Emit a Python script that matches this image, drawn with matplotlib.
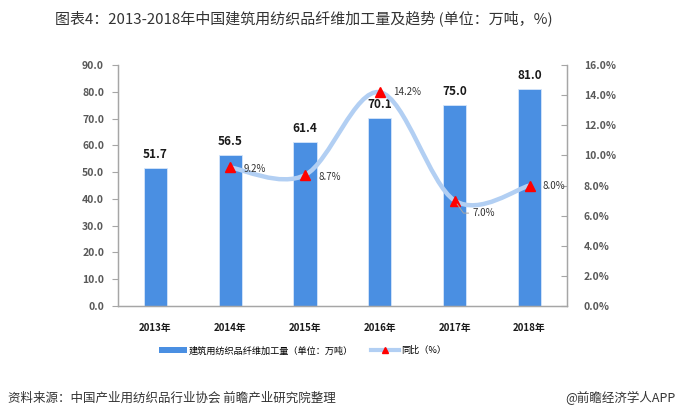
import numpy as np
import matplotlib
matplotlib.use('Agg')
import matplotlib.pyplot as plt
from matplotlib.path import Path
from matplotlib.patches import PathPatch, Patch
from matplotlib.lines import Line2D

plt.rcParams['font.family'] = ['Noto Sans CJK SC', 'DejaVu Sans']

# 数据
years = ['2013年', '2014年', '2015年', '2016年', '2017年', '2018年']
volume = [51.7, 56.5, 61.4, 70.1, 75.0, 81.0]          # 万吨
yoy_years = ['2014年', '2015年', '2016年', '2017年', '2018年']
yoy = [9.2, 8.7, 14.2, 7.0, 8.0]                        # %
left_ticks = [0, 10, 20, 30, 40, 50, 60, 70, 80, 90]
right_ticks = [0, 2, 4, 6, 8, 10, 12, 14, 16]

bar_c = '#4a8fe2'
line_c = '#b2cff3'
spine_c = '#a6a6a6'
tick_c = '#595959'

fig = plt.figure(figsize=(6.8, 4.2), dpi=100)
ax = fig.add_axes([0.1735, 0.2714, 0.6603, 0.5736])
ax2 = ax.twinx()

x = np.arange(len(years))
ax.bar(x, volume, width=0.31, color=bar_c, edgecolor='#d6e6fa', linewidth=0.6, zorder=2)
for xi, v in zip(x, volume):
    ax.annotate('%.1f' % v, (xi, v), xytext=(0, 5), textcoords='offset points',
                ha='center', va='bottom', fontsize=8.5, fontweight='bold', color='#1a1a1a')

ax.set_xlim(-0.5, 5.5)
ax.set_ylim(0, 90)
ax.set_yticks(left_ticks)
ax.set_yticklabels(['%.1f' % t for t in left_ticks], fontsize=7.5, fontweight='bold', color=tick_c)
ax.set_xticks(x)
ax.set_xticklabels(years, fontsize=7, fontweight='bold', color='#1a1a1a')
ax.tick_params(axis='x', length=0, pad=12)
ax.tick_params(axis='y', direction='out', length=4, color=spine_c, pad=6)

ax2.set_ylim(0, 16)
ax2.set_yticks(right_ticks)
ax2.set_yticklabels(['%.1f%%' % t for t in right_ticks], fontsize=7.5, fontweight='bold', color=tick_c)
ax2.tick_params(axis='y', direction='in', length=4, color=spine_c, pad=12)

for a in (ax, ax2):
    a.spines['top'].set_visible(False)
    for s in ('left', 'right', 'bottom'):
        a.spines[s].set_color(spine_c)
        a.spines[s].set_linewidth(0.9)

# 平滑曲线 (类似 Excel 平滑线)
xs = np.array([years.index(y) for y in yoy_years], dtype=float)
ys = np.array(yoy, dtype=float)
n = len(xs)
verts = [(xs[0], ys[0])]
codes = [Path.MOVETO]
for i in range(n - 1):
    p0 = np.array([xs[max(i - 1, 0)], ys[max(i - 1, 0)]])
    p1 = np.array([xs[i], ys[i]])
    p2 = np.array([xs[i + 1], ys[i + 1]])
    p3 = np.array([xs[min(i + 2, n - 1)], ys[min(i + 2, n - 1)]])
    c1 = p1 + (p2 - p0) / 6.0
    c2 = p2 - (p3 - p1) / 6.0
    verts += [tuple(c1), tuple(c2), tuple(p2)]
    codes += [Path.CURVE4] * 3
ax2.add_patch(PathPatch(Path(verts, codes), facecolor='none', edgecolor=line_c,
                        linewidth=3.2, capstyle='round', zorder=3))
ax2.plot(xs, ys, linestyle='none', marker='^', markersize=7, color='#ff0000', zorder=4)

offsets = [(9.5, -1), (9.5, -1.5), (9.5, 0), (None, None), (9.5, 0)]
for xi, v, off in zip(xs, ys, offsets):
    if off[0] is None:
        # 7.0% 带引线
        ax2.annotate('%.1f%%' % v, (xi, v), xytext=(13, -9), textcoords='offset points',
                     ha='left', va='center', fontsize=7, color='#333333', zorder=5,
                     arrowprops=dict(arrowstyle='-', color='#a6a6a6', lw=0.7,
                                     shrinkA=1, shrinkB=3, relpos=(0, 0.5),
                                     connectionstyle='angle,angleA=0,angleB=125,rad=0'))
    else:
        ax2.annotate('%.1f%%' % v, (xi, v), xytext=off, textcoords='offset points',
                     ha='left', va='center', fontsize=7, color='#333333', zorder=5)

# 图例
handles = [Patch(facecolor=bar_c, edgecolor='none'),
           Line2D([0], [0], color=line_c, lw=3, marker='^', markersize=5,
                  markerfacecolor='#ff0000', markeredgecolor='#ff0000')]
fig.legend(handles, ['建筑用纺织品纤维加工量（单位：万吨）', '同比（%）'],
           loc='center', bbox_to_anchor=(0.445, 0.165), ncol=2, frameon=False,
           fontsize=6.6, handlelength=3.0, handleheight=0.55, columnspacing=2.0,
           handletextpad=0.2)

fig.text(55 / 680, 1 - 18 / 420,
         '图表4：2013-2018年中国建筑用纺织品纤维加工量及趋势 (单位：万吨，%)',
         ha='left', va='center', fontsize=10.8, color='#333333')
fig.text(8 / 680, 1 - 398 / 420,
         '资料来源：中国产业用纺织品行业协会 前瞻产业研究院整理',
         ha='left', va='center', fontsize=9, color='#333333', style='italic')
fig.text(675 / 680, 1 - 398 / 420, '@前瞻经济学人APP',
         ha='right', va='center', fontsize=9, color='#333333')

fig.savefig('out.png', dpi=100)
